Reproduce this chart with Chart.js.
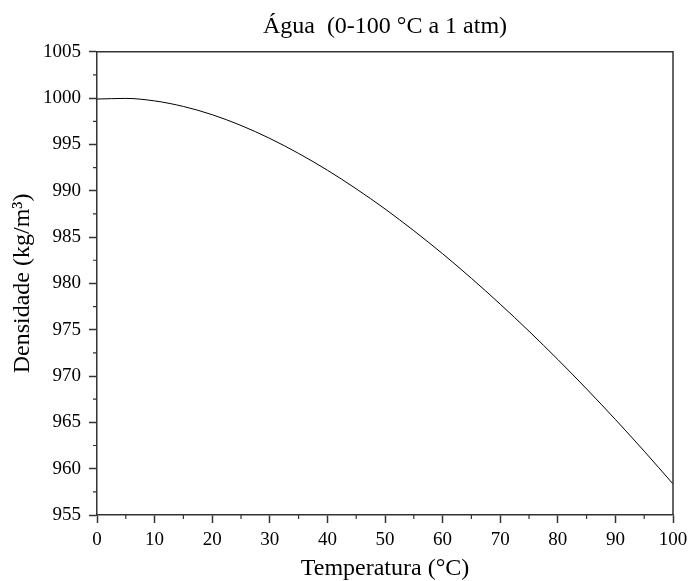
<!DOCTYPE html>
<html>
<head>
<meta charset="utf-8">
<script src="https://cdn.jsdelivr.net/npm/chart.js@4.4.1/dist/chart.umd.min.js"></script>
<style>
  html, body { margin: 0; padding: 0; background: #fff; }
  canvas { display: block; }
</style>
</head>
<body>
<canvas id="densityChart" width="689" height="581"></canvas>
<script>
// Temperature (°C) and density of water (kg/m³)
const temps = [0, 5, 10, 15, 20, 25, 30, 35, 40, 45, 50, 55, 60, 65, 70, 75, 80, 85, 90, 95, 100];
const densities = [999.9, 999.97, 999.70, 999.10, 998.21, 997.05, 995.65, 994.03, 992.22, 990.21,
  988.04, 985.69, 983.20, 980.55, 977.76, 974.84, 971.79, 968.61, 965.31, 961.89, 958.35];
const xMinorTicks = [5, 15, 25, 35, 45, 55, 65, 75, 85, 95];
const yMinorTicks = [957.5, 962.5, 967.5, 972.5, 977.5, 982.5, 987.5, 992.5, 997.5, 1002.5];

const axisColor = '#333';
const serif = "'Liberation Serif', 'Times New Roman', serif";

// draws the box top/right edges and the short minor ticks
const frameAndMinor = {
  id: 'frameAndMinor',
  afterDraw(chart) {
    const ctx = chart.ctx;
    const a = chart.chartArea;
    const xs = chart.scales.x;
    const ys = chart.scales.y;
    ctx.save();
    ctx.strokeStyle = axisColor;
    ctx.lineWidth = 1.5;
    ctx.beginPath();
    ctx.moveTo(a.left, a.top);
    ctx.lineTo(a.right, a.top);
    ctx.lineTo(a.right, a.bottom);
    ctx.stroke();
    ctx.lineWidth = 1.2;
    ctx.beginPath();
    xMinorTicks.forEach(v => {
      const px = xs.getPixelForValue(v);
      ctx.moveTo(px, a.bottom);
      ctx.lineTo(px, a.bottom + 4);
    });
    yMinorTicks.forEach(v => {
      const py = ys.getPixelForValue(v);
      ctx.moveTo(a.left, py);
      ctx.lineTo(a.left - 4, py);
    });
    ctx.stroke();
    ctx.restore();
  }
};

const ctx = document.getElementById('densityChart').getContext('2d');
new Chart(ctx, {
  type: 'line',
  data: {
    datasets: [{
      data: temps.map((t, i) => ({ x: t, y: densities[i] })),
      borderColor: '#000',
      borderWidth: 1,
      pointRadius: 0,
      cubicInterpolationMode: 'monotone',
      fill: false
    }]
  },
  options: {
    responsive: false,
    animation: false,
    layout: { padding: { left: 0, right: 16, top: 0, bottom: 0 } },
    plugins: {
      legend: { display: false },
      tooltip: { enabled: false },
      title: {
        display: true,
        text: 'Água  (0-100 °C a 1 atm)',
        fullSize: false,
        color: '#000',
        font: { family: serif, size: 24, weight: 'normal' },
        padding: { top: 12, bottom: 11 }
      }
    },
    scales: {
      x: {
        type: 'linear',
        min: 0,
        max: 100,
        ticks: {
          stepSize: 10,
          color: '#000',
          font: { family: serif, size: 19 },
          padding: 6,
          maxRotation: 0
        },
        grid: {
          drawOnChartArea: false,
          drawTicks: true,
          tickLength: 8,
          tickColor: axisColor,
          tickWidth: 1.5
        },
        border: { display: true, color: axisColor, width: 1.5 },
        title: {
          display: true,
          text: 'Temperatura (°C)',
          color: '#000',
          font: { family: serif, size: 24, lineHeight: 1 },
          padding: { top: 0, bottom: 0 }
        },
        afterFit(scale) {
          scale.height = 66;
          scale.paddingLeft = 0;
          scale.paddingRight = 0;
        }
      },
      y: {
        type: 'linear',
        min: 955,
        max: 1005,
        ticks: {
          stepSize: 5,
          color: '#000',
          font: { family: serif, size: 19 },
          padding: 8,
          callback: v => String(v)
        },
        grid: {
          drawOnChartArea: false,
          drawTicks: true,
          tickLength: 8,
          tickColor: axisColor,
          tickWidth: 1.5
        },
        border: { display: true, color: axisColor, width: 1.5 },
        title: {
          display: true,
          text: 'Densidade (kg/m³)',
          color: '#000',
          font: { family: serif, size: 24 },
          padding: { top: 8, bottom: 0 }
        },
        afterFit(scale) {
          scale.width = 97;
          scale.paddingTop = 0;
          scale.paddingBottom = 0;
        }
      }
    }
  },
  plugins: [frameAndMinor]
});
</script>
</body>
</html>
